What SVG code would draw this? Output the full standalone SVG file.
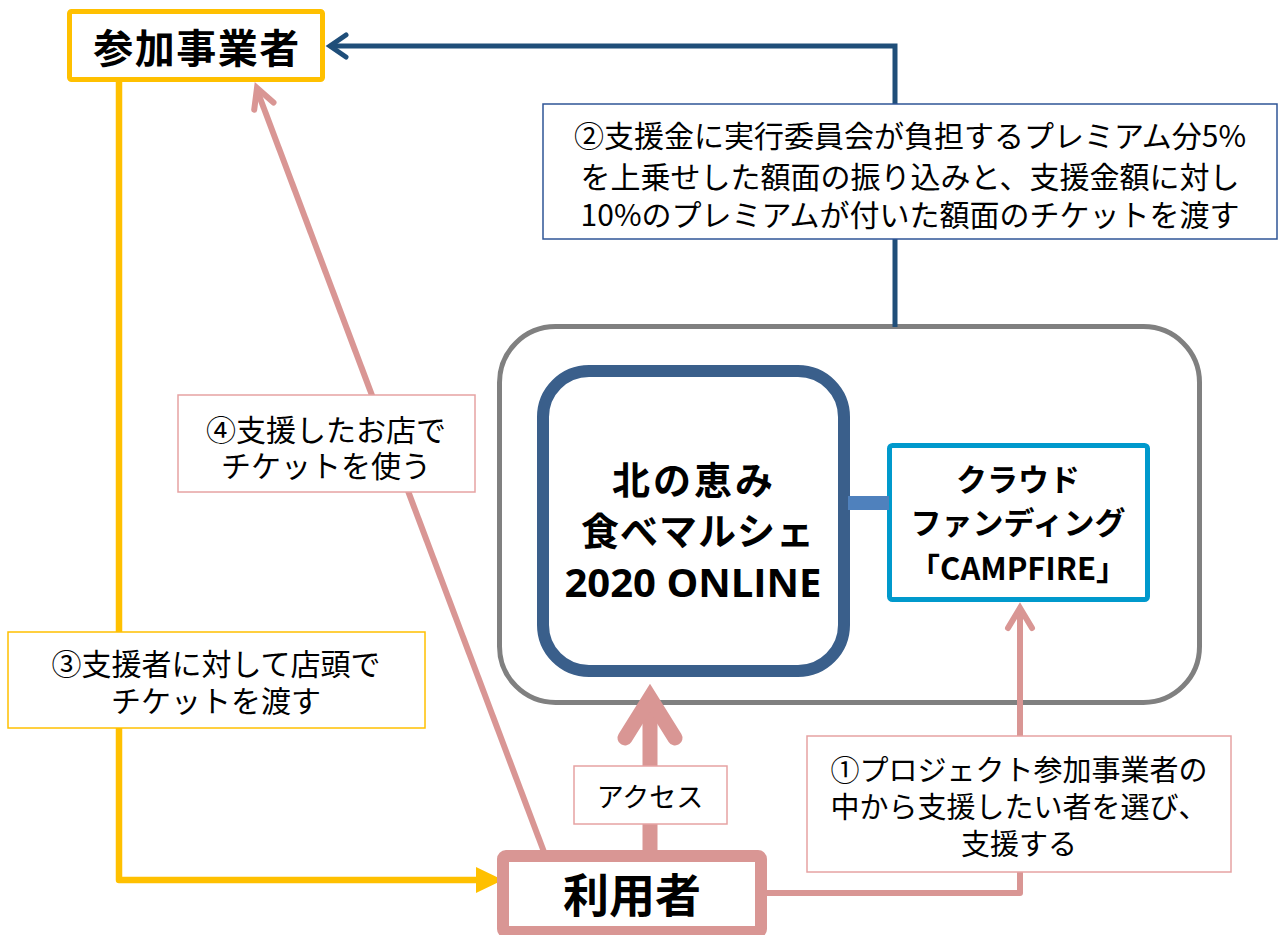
<svg xmlns="http://www.w3.org/2000/svg" width="1284" height="935" viewBox="0 0 1284 935">
<style>
text{font-family:"Noto Sans CJK JP","Noto Sans",sans-serif;fill:#000;text-anchor:middle;dominant-baseline:central}
.b{font-weight:bold}
.lbl{font-size:30px}
.lbox{fill:#fff;stroke-width:1.5}
.pink{stroke:#D99694;fill:none}
.round{stroke-linecap:round;stroke-linejoin:miter}
</style>
<rect x="0" y="0" width="1284" height="935" fill="#fff"/>

<g id="platform">
  <rect x="499.5" y="326.5" width="700" height="376" rx="56" fill="#fff" stroke="#808080" stroke-width="5"/>
</g>

<g id="marche">
  <rect x="543" y="371" width="301" height="300" rx="46" fill="#fff" stroke="#3A5F8B" stroke-width="12"/>
  <text class="b" x="694" y="477" font-size="38" letter-spacing="3">北の恵み</text>
  <text class="b" x="698" y="528" font-size="38" letter-spacing="1">食べマルシェ</text>
  <text class="b" x="693" y="581" font-size="40" style="font-family:'Open Sans','Noto Sans CJK JP',sans-serif">2020 ONLINE</text>
</g>

<g id="campfire">
  <rect x="889.5" y="445.5" width="258" height="154" rx="3" fill="#fff" stroke="#0099CC" stroke-width="5"/>
  <text class="b" x="1018" y="477" font-size="31">クラウド</text>
  <text class="b" x="1018" y="520" font-size="31">ファンディング</text>
  <text class="b" x="1018" y="566" font-size="31">「CAMPFIRE」</text>
</g>

<g id="connectors">
  <line x1="848" y1="503" x2="889" y2="503" stroke="#4F81BD" stroke-width="14"/>
  <polyline points="895,327 895,46 332,46" fill="none" stroke="#1F4E79" stroke-width="5"/>
  <path d="M346,35 L330,46 L346,57" fill="none" stroke="#1F4E79" stroke-width="5" class="round"/>
  <polyline points="119,78 119,880 480,880" fill="none" stroke="#FFC000" stroke-width="6.5" stroke-linejoin="round"/>
  <polygon points="476,867 503,880 476,893" fill="#FFC000"/>
  <line x1="544" y1="852" x2="257" y2="90" class="pink" stroke-width="6"/>
  <path d="M273.5,102.5 L257,88 L254.2,109.8" class="pink round" stroke-width="6"/>
  <line x1="650" y1="852" x2="650" y2="700" class="pink" stroke-width="15"/>
  <path d="M625,738 L650,698 L675,738" class="pink round" stroke-width="15"/>
  <polyline points="765,893 1020,893 1020,610" class="pink" stroke-width="6" stroke-linejoin="round"/>
  <path d="M1008,628 L1020,608 L1032,628" class="pink round" stroke-width="6"/>
</g>

<g id="label2">
  <rect x="543" y="104" width="734" height="135" class="lbox" stroke="#2F5597"/>
  <text class="lbl" x="910" y="134">②支援金に実行委員会が負担するプレミアム分5%</text>
  <text class="lbl" x="910" y="175">を上乗せした額面の振り込みと、支援金額に対し</text>
  <text class="lbl" x="910" y="213">10%のプレミアムが付いた額面のチケットを渡す</text>
</g>

<g id="label4">
  <rect x="178" y="395" width="297" height="97" class="lbox" stroke="#E6A3A3"/>
  <text class="lbl" x="326" y="428">④支援したお店で</text>
  <text class="lbl" x="326" y="464">チケットを使う</text>
</g>

<g id="label3">
  <rect x="8" y="632" width="417" height="96" class="lbox" stroke="#FFC000"/>
  <text class="lbl" x="216" y="662">③支援者に対して店頭で</text>
  <text class="lbl" x="216" y="699">チケットを渡す</text>
</g>

<g id="label1">
  <rect x="807" y="736" width="424" height="136" class="lbox" stroke="#E6A3A3"/>
  <text x="1019" y="768" font-size="29">①プロジェクト参加事業者の</text>
  <text x="1019" y="805" font-size="29">中から支援したい者を選び、</text>
  <text x="1019" y="842" font-size="29">支援する</text>
</g>

<g id="access">
  <rect x="574" y="766" width="153" height="58" class="lbox" stroke="#E6A3A3"/>
  <text x="650" y="795" font-size="27">アクセス</text>
</g>

<g id="participants">
  <rect x="69.5" y="11.5" width="253" height="68" rx="2" fill="#fff" stroke="#FFC000" stroke-width="5"/>
  <text class="b" x="197" y="46" font-size="40" letter-spacing="1.5">参加事業者</text>
</g>

<g id="users">
  <rect x="503" y="856" width="258" height="76" rx="3" fill="#fff" stroke="#D99694" stroke-width="12"/>
  <text class="b" x="632" y="892" font-size="46">利用者</text>
</g>
</svg>
